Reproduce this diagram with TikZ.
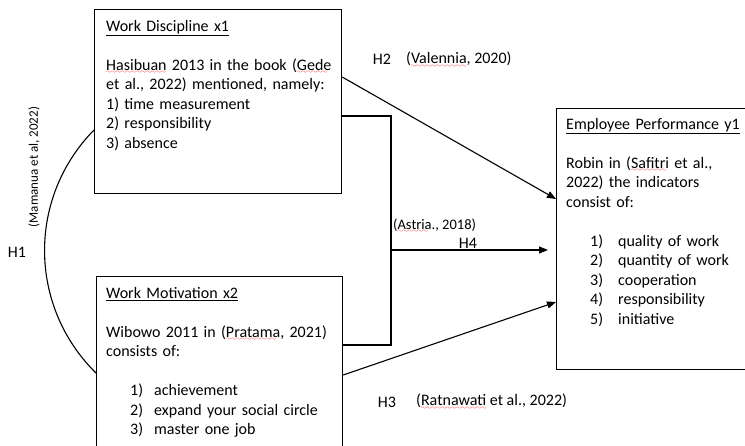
\documentclass[tikz,border=0pt]{standalone}
\usepackage{fontspec}
\setmainfont{Carlito}
\usetikzlibrary{arrows.meta,calc}
\font\wavefont=lasy6
\newcommand\redwave[1]{\leavevmode\setbox0\hbox{#1}\rlap{\smash{\lower3.5pt\hbox to\wd0{\color{red}\wavefont\leaders\hbox{\char58}\hfill}}}#1}

\begin{document}
\begin{tikzpicture}[x=1pt,y=-1pt,font=\fontsize{16}{19.5}\selectfont,
	frame/.style={draw,line width=1.2pt,inner sep=0pt,anchor=north west},
	boxtext/.style={anchor=north west,align=left,inner sep=0pt,text width=240pt},
	link/.style={line width=1.1pt},
	arr/.style={-{Triangle[length=9pt,width=7pt]}},
	lab/.style={inner sep=0pt}]
	\useasboundingbox (0,0) rectangle (745,445);
	\clip (0,0) rectangle (745,445);
	\node[frame,minimum width=247pt,minimum height=184pt] (x1) at (94,9) {};
	\node[frame,minimum width=246pt,minimum height=200pt] (x2) at (96,276) {};
	\node[frame,minimum width=220pt,minimum height=261pt] (y1) at (556,108) {};
	\node[boxtext] (x1t) at ($(x1.north west)+(12,11)$) {\underline{Work Discipline x1}\\[19.5pt]
		\redwave{Hasibuan} 2013 in the book (\redwave{Gede}\\
		et al., 2022) mentioned, namely:\\
		1) time measurement\\
		2) responsibility\\
		3) absence};
	\node[boxtext] (x2t) at ($(x2.north west)+(10,11)$) {\underline{Work Motivation x2}\\[19.5pt]
		Wibowo 2011 in (\redwave{Pratama}, 2021)\\
		consists of:\\[19.5pt]
		\hspace*{24pt}\makebox[24pt][l]{1)}achievement\\
		\hspace*{24pt}\makebox[24pt][l]{2)}expand your social circle\\
		\hspace*{24pt}\makebox[24pt][l]{3)}master one job};
	\node[boxtext,text width=200pt] (y1t) at ($(y1.north west)+(10,10)$) {\underline{Employee Performance y1}\\[19.5pt]
		Robin in (\redwave{Safitri} et al.,\\
		2022) the indicators\\
		consist of:\\[19.5pt]
		\hspace*{24pt}\makebox[28pt][l]{1)}quality of work\\
		\hspace*{24pt}\makebox[28pt][l]{2)}quantity of work\\
		\hspace*{24pt}\makebox[28pt][l]{3)}cooperation\\
		\hspace*{24pt}\makebox[28pt][l]{4)}responsibility\\
		\hspace*{24pt}\makebox[28pt][l]{5)}initiative};
	\coordinate (join) at (391,250);
	\draw[link,arr] ($(x1.north east)+(0,68)$) -- ($(y1.north west)+(0,91)$);
	\draw[link] ($(x1.north east)+(0,107)$) -| (join) |- ($(x2.north east)+(0,69)$);
	\draw[link,arr] (join) -- ($(y1.north west)+(-8,142)$);
	\draw[link,arr] ($(x2.north east)+(0,99)$) -- ($(y1.north west)+(0,194)$);
	\draw[link] ($(x1.north west)+(0,121)$) to[bend right=45] ($(x2.north west)+(0,97)$);
	\node[lab] (h1) at (17,252) {H1};
	\node[lab,rotate=90,font=\fontsize{13}{15}\selectfont] (h1ref) at (34,167) {(Mamanua et al, 2022)};
	\node[lab] (h2) at (382,59) {H2};
	\node[lab,anchor=west] (h2ref) at (406,59) {(\redwave{Valennia}, 2020)};
	\node[lab,anchor=west,font=\fontsize{14.5}{16}\selectfont] (h4ref) at (393,225) {(\redwave{Astria}., 2018)};
	\node[lab] (h4) at (468,243) {H4};
	\node[lab] (h3) at (387,402) {H3};
	\node[lab,anchor=west] (h3ref) at (416,401) {(\redwave{Ratnawati} et al., 2022)};
\end{tikzpicture}
\end{document}
